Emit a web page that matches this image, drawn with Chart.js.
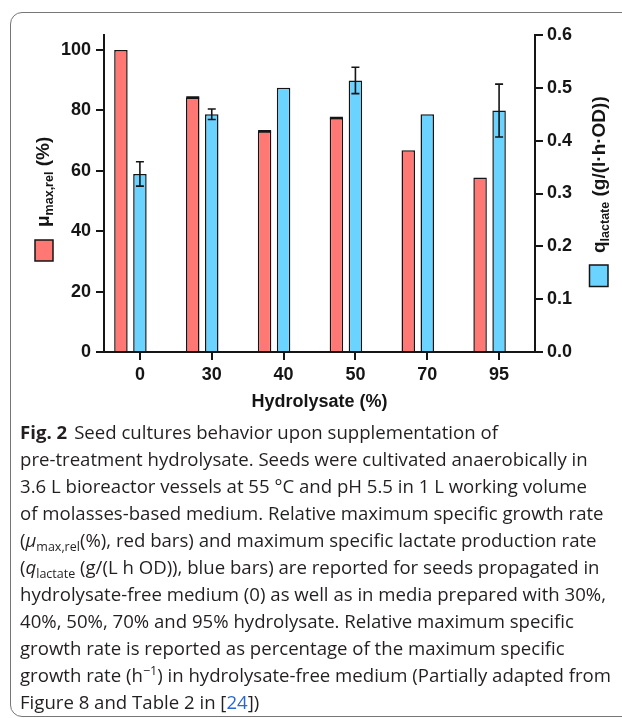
<!DOCTYPE html>
<html>
<head>
<meta charset="utf-8">
<script src="https://cdn.jsdelivr.net/npm/chart.js@4.4.0/dist/chart.umd.min.js"></script>
<style>
html, body { margin: 0; padding: 0; background: #fff; }
body { width: 622px; height: 718px; overflow: hidden; position: relative; }
.frame { position: absolute; left: 10px; top: 12px; width: 700px; height: 703px; border: 1px solid #777; border-radius: 12px; }
#chart { position: absolute; left: 0; top: 0; }
.caption { position: absolute; left: 20px; top: 418px; font-family: 'Open Sans', sans-serif; font-size: 18.6px; line-height: 27px; color: #231f20; white-space: nowrap; }
.caption b { margin-right: 7px; }
.caption sub { font-size: 12.5px; vertical-align: -4px; line-height: 0; }
.caption sup { font-size: 12.5px; vertical-align: 7px; line-height: 0; }
.ref { color: #2b66d0; }
</style>
</head>
<body>
<div class="frame"></div>
<canvas id="chart" width="622" height="420"></canvas>
<div class="caption">
  <div><b>Fig. 2</b>Seed cultures behavior upon supplementation of</div>
  <div>pre-treatment hydrolysate. Seeds were cultivated anaerobically in</div>
  <div>3.6 L bioreactor vessels at 55 °C and pH 5.5 in 1 L working volume</div>
  <div>of molasses-based medium. Relative maximum specific growth rate</div>
  <div>(<i>μ</i><sub>max,rel</sub>(%), red bars) and maximum specific lactate production rate</div>
  <div>(<i>q</i><sub>lactate</sub> (g/(L h OD)), blue bars) are reported for seeds propagated in</div>
  <div>hydrolysate-free medium (0) as well as in media prepared with 30%,</div>
  <div>40%, 50%, 70% and 95% hydrolysate. Relative maximum specific</div>
  <div>growth rate is reported as percentage of the maximum specific</div>
  <div>growth rate (h<sup>−1</sup>) in hydrolysate-free medium (Partially adapted from</div>
  <div>Figure 8 and Table 2 in [<span class="ref">24</span>])</div>
</div>
<script>
const categories = ['0', '30', '40', '50', '70', '95'];
const muMaxRel = [100, 84.3, 73.1, 77.5, 66.8, 57.8];
const muMaxRelErr = [0, 0.2, 0.2, 0.2, 0, 0];
const qLactate = [0.337, 0.450, 0.500, 0.514, 0.450, 0.457];
const qLactateErr = [0.023, 0.010, 0, 0.025, 0, 0.050];
const leftTicks = [0, 20, 40, 60, 80, 100];
const rightTicks = [0, 0.1, 0.2, 0.3, 0.4, 0.5, 0.6];

const RED = '#ff7873';
const BLUE = '#6bd3ff';
const INK = '#151515';
const FONT = "'Liberation Sans', Arial, sans-serif";

// error bars on top of the bars
const errorBars = {
  id: 'errorBars',
  afterDatasetsDraw(chart) {
    const ctx = chart.ctx;
    chart.data.datasets.forEach((ds, i) => {
      if (!ds.errors) return;
      const meta = chart.getDatasetMeta(i);
      const scale = chart.scales[ds.yAxisID];
      meta.data.forEach((bar, j) => {
        const e = ds.errors[j];
        if (!e) return;
        const top = scale.getPixelForValue(ds.data[j] + e);
        const bot = scale.getPixelForValue(ds.data[j] - e);
        const w = ds.capWidth / 2;
        ctx.save();
        ctx.strokeStyle = INK;
        ctx.lineWidth = ds.errWidth;
        ctx.beginPath();
        ctx.moveTo(bar.x, top); ctx.lineTo(bar.x, bot);
        ctx.moveTo(bar.x - w, top); ctx.lineTo(bar.x + w, top);
        ctx.moveTo(bar.x - w, bot); ctx.lineTo(bar.x + w, bot);
        ctx.stroke();
        ctx.restore();
      });
    });
  }
};

// rotated y titles with the little colour key under them
function sideTitle(ctx, x, y, parts) {
  ctx.save();
  ctx.translate(x, y);
  ctx.rotate(-Math.PI / 2);
  ctx.fillStyle = INK;
  ctx.textBaseline = 'alphabetic';
  let pos = 0;
  parts.forEach(p => {
    ctx.font = 'bold ' + p.size + 'px ' + FONT;
    ctx.fillText(p.t, pos, p.dy || 0);
    pos += ctx.measureText(p.t).width;
  });
  ctx.restore();
}

function keyBox(ctx, x, y, w, h, color) {
  ctx.save();
  ctx.fillStyle = color;
  ctx.fillRect(x, y, w, h);
  ctx.strokeStyle = INK;
  ctx.lineWidth = 1.5;
  ctx.strokeRect(x, y, w, h);
  ctx.restore();
}

const axisTitles = {
  id: 'axisTitles',
  afterDraw(chart) {
    const ctx = chart.ctx;
    sideTitle(ctx, 49, 227, [
      { t: 'μ', size: 19 },
      { t: 'max,rel', size: 12.5, dy: 3.5 },
      { t: ' (%)', size: 19 }
    ]);
    keyBox(ctx, 35, 240, 18, 21, RED);
    sideTitle(ctx, 605, 253, [
      { t: 'q', size: 19 },
      { t: 'lactate', size: 12.5, dy: 3.5 },
      { t: ' (g/(l·h·OD))', size: 19 }
    ]);
    keyBox(ctx, 589.5, 265, 18.5, 21.5, BLUE);
  }
};

const tickFont = { family: FONT, size: 18, weight: 'bold' };
const axisGrid = { drawOnChartArea: false, color: INK, lineWidth: 2, tickLength: 8, tickWidth: 2 };
const axisBorder = { color: INK, width: 2 };

new Chart(document.getElementById('chart'), {
  type: 'bar',
  data: {
    labels: categories,
    datasets: [
      {
        label: 'μmax,rel (%)', data: muMaxRel, errors: muMaxRelErr, capWidth: 13, errWidth: 1.2, yAxisID: 'y',
        backgroundColor: RED, borderColor: INK, borderWidth: 1.5
      },
      {
        label: 'qlactate (g/(l·h·OD))', data: qLactate, errors: qLactateErr, capWidth: 8, errWidth: 1.6, yAxisID: 'y1',
        backgroundColor: BLUE, borderColor: INK, borderWidth: 1.5
      },
      // empty third slot so the blue bar sits on the category tick
      { label: '', data: categories.map(() => null), yAxisID: 'y' }
    ]
  },
  options: {
    responsive: false,
    animation: false,
    devicePixelRatio: 1,
    categoryPercentage: 0.7935,
    barPercentage: 0.71,
    layout: { padding: { top: 35, left: 0, right: 0, bottom: 0 } },
    plugins: { legend: { display: false }, tooltip: { enabled: false } },
    scales: {
      x: {
        grid: Object.assign({}, axisGrid, { offset: false }),
        border: axisBorder,
        ticks: { color: INK, font: tickFont, padding: 4 },
        title: { display: true, text: 'Hydrolysate (%)', color: INK, font: tickFont, padding: { top: 0, bottom: 6.7 } },
        afterFit: s => { s.height = 68; s.paddingLeft = 0; s.paddingRight = 0; }
      },
      y: {
        position: 'left',
        min: 0,
        max: 105,
        grid: axisGrid,
        border: axisBorder,
        ticks: { color: INK, font: tickFont, padding: 5 },
        afterBuildTicks: s => { s.ticks = leftTicks.map(v => ({ value: v })); },
        afterFit: s => { s.width = 104; s.paddingTop = 0; s.paddingBottom = 0; }
      },
      y1: {
        position: 'right',
        min: 0,
        max: 0.6,
        grid: axisGrid,
        border: axisBorder,
        ticks: { color: INK, font: tickFont, padding: 4, callback: v => v.toFixed(1) },
        afterBuildTicks: s => { s.ticks = rightTicks.map(v => ({ value: v })); },
        afterFit: s => { s.width = 87; s.paddingTop = 0; s.paddingBottom = 0; }
      }
    }
  },
  plugins: [errorBars, axisTitles]
});
</script>
</body>
</html>
